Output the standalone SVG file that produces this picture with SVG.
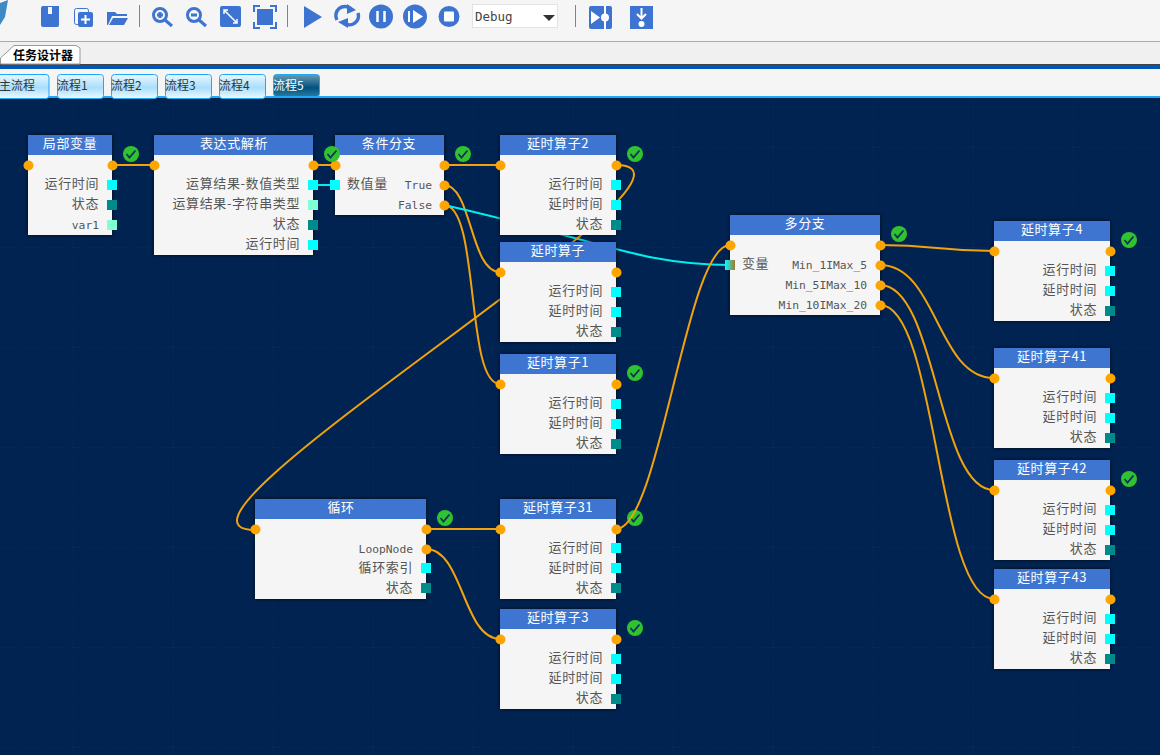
<svg xmlns="http://www.w3.org/2000/svg" width="1160" height="755" viewBox="0 0 1160 755">
<style>
.ti{font-family:"Noto Sans CJK SC",sans-serif;font-size:13px;fill:#fff;text-anchor:middle;letter-spacing:.6px}
.l{font-family:"Noto Sans CJK SC",sans-serif;font-size:13px;fill:#555;text-anchor:end;letter-spacing:.6px}
.ls{font-family:"Noto Sans CJK SC",sans-serif;font-size:13px;fill:#555;letter-spacing:.6px}
.m{font-family:"DejaVu Sans Mono",monospace;font-size:11.3px;fill:#555;text-anchor:end}
.tab{font-family:"Noto Sans CJK SC",sans-serif;font-size:12px;fill:#333}
.b{fill:#f5f5f5}.h{fill:#3d74d1}
.o{fill:#ffa500;transform:translate(.5px,.5px)}.c{fill:#0ff}.d{fill:#008b8b}.a{fill:#7fffd4}
.w{fill:none;stroke:#f2a20c;stroke-width:2}
.cy{fill:none;stroke:#0ee;stroke-width:2}
.i{fill:#3d74d1}.ln{fill:none;stroke:#3d74d1}.wl{fill:none;stroke:#fff}
.sep{stroke:#5b86d0;stroke-width:1}
.tb{stroke:#1fa9f5;stroke-width:1;fill:url(#tg)}
</style>
<defs>
<filter id="s" x="-10%" y="-10%" width="120%" height="120%"><feDropShadow dx="0" dy="0" stdDeviation="2" flood-color="#000" flood-opacity=".75"/></filter>
<linearGradient id="tg" x1="0" y1="0" x2="0" y2="1"><stop offset="0" stop-color="#eaf7ff"/><stop offset=".55" stop-color="#a8defc"/><stop offset="1" stop-color="#eef9ff"/></linearGradient>
<linearGradient id="ta" x1="0" y1="0" x2="0" y2="1"><stop offset="0" stop-color="#6c9bb2"/><stop offset=".6" stop-color="#00527f"/><stop offset="1" stop-color="#2a7ba0"/></linearGradient>
<linearGradient id="vg"><stop offset="0" stop-color="#0ff"/><stop offset="1" stop-color="#a9772c"/></linearGradient>
<pattern id="g" x="73" y="147" width="100" height="100" patternUnits="userSpaceOnUse"><path d="M0 0H100M0 0V100" stroke="#0f3364" stroke-width="1" stroke-dasharray="1 2" fill="none"/></pattern>
<g id="ok"><circle r="8" fill="#2fc42f"/><path d="M-4.5 0L-1.5 3.5L4.5-3.5" fill="none" stroke="#12305a" stroke-width="1.8"/></g>
</defs>

<rect width="1160" height="755" fill="#012352"/>
<rect y="98" width="1160" height="657" fill="url(#g)"/>

<g id="toolbar">
<rect width="1160" height="41" fill="#f5f5f5"/>
<rect y="41" width="1160" height="1" fill="#aaa"/>
<rect y="42" width="1160" height="22" fill="#f0f0f0"/>
<rect y="64" width="1160" height="1" fill="#444"/>
<rect y="65" width="1160" height="4" fill="#0057b8"/>
<rect y="69" width="1160" height="27" fill="#f5f5f5"/>
<rect y="96" width="1160" height="2" fill="#1fa9f5"/>
<path d="M0 3L8 0L5 17L0 25Z" fill="#3d8ac5"/>
<path class="i" d="M43 6H59V25Q59 27 57 27H43Q41 27 41 25V8Q41 6 43 6Z"/><rect x="48" y="7" width="4" height="7" fill="#f5f5f5"/>
<rect class="ln" x="74.500" y="8.500" width="14" height="16" rx="2"/><rect class="i" x="78" y="12" width="15" height="15" rx="2"/><path class="wl" stroke-width="2" d="M85.500 15V24M81 19.500H90"/>
<path class="i" d="M107 12H115L117 14H127V16H112L108 25H107ZM113 18H128L124 25H109Z"/>
<line class="sep" x1="139.500" y1="5" x2="139.500" y2="27"/>
<circle class="ln" stroke-width="3" cx="160" cy="15" r="6.500"/><path class="ln" stroke-width="3" d="M165 20L172 26M157 15H163M160 12V18"/>
<circle class="ln" stroke-width="3" cx="194" cy="15" r="6.500"/><path class="ln" stroke-width="3" d="M199 20L206 26M191 15H197"/>
<rect class="i" x="220" y="6" width="21" height="21" rx="2"/><path class="wl" stroke-width="1.500" d="M224 10L237 23M224 14V10H228M237 19V23H233"/>
<path class="ln" stroke-width="2" d="M254 12V6H260M270 6H276V12M276 22V28H270M260 28H254V22"/><rect class="i" x="257" y="9" width="16" height="16"/>
<line class="sep" x1="287.500" y1="5" x2="287.500" y2="27"/>
<path class="i" d="M304 6L322 17L304 28Z"/>
<path class="ln" stroke-width="3.500" d="M337 20A9 9 0 0 1 351 9M358 13A9 9 0 0 1 344 23"/><path class="i" d="M347 4L356 10L347 14ZM348 28L338 22L348 18Z"/>
<circle class="i" cx="381" cy="16.500" r="12"/><path class="wl" stroke-width="2.500" d="M377.500 11V22M384.500 11V22"/>
<circle class="i" cx="415" cy="16.500" r="12"/><path class="wl" stroke-width="2" d="M409 11V22"/><path d="M413 10L423 16.500L413 23Z" fill="#fff"/>
<circle class="i" cx="449" cy="16.500" r="10.500"/><rect x="444" y="11.500" width="10" height="10" rx="1" fill="#fff"/>
<rect x="472.500" y="4.500" width="85" height="23" fill="#fff" stroke="#e3e3e3"/>
<text x="475" y="21" font-family="DejaVu Sans Mono,monospace" font-size="12.500" fill="#444">Debug</text>
<path d="M543 15H555L549 21Z" fill="#333"/>
<line class="sep" x1="575.500" y1="5" x2="575.500" y2="27"/>
<rect class="i" x="589" y="6" width="23" height="23" rx="2"/><path d="M591 11L600 17.500L591 24Z" fill="#fff"/><path class="wl" stroke-width="2" d="M605 6V29"/><circle cx="605" cy="17.500" r="4" fill="#fff"/>
<rect class="i" x="630" y="6" width="23" height="23"/><path class="wl" stroke-width="2" d="M641.500 8V18M637 14L641.500 18.500L646 14"/><circle cx="641.500" cy="24" r="3" fill="#fff"/>
<path d="M0.500 62V58L14 45.500H76L80 48V64H0.500Z" fill="#fff" stroke="#999"/>
<text x="13" y="60" font-family="Noto Sans CJK SC,sans-serif" font-size="12" font-weight="700" fill="#000">任务设计器</text>
<g id="tabs">
<rect class="tb" x="-8" y="74.500" width="57" height="24" rx="3"/><text class="tab" x="-1" y="90">主流程</text>
<rect class="tb" x="57.500" y="74.500" width="46" height="24" rx="3"/><text class="tab" x="57" y="90">流程1</text>
<rect class="tb" x="111.500" y="74.500" width="46" height="24" rx="3"/><text class="tab" x="111" y="90">流程2</text>
<rect class="tb" x="165.500" y="74.500" width="46" height="24" rx="3"/><text class="tab" x="165" y="90">流程3</text>
<rect class="tb" x="219.500" y="74.500" width="46" height="24" rx="3"/><text class="tab" x="219" y="90">流程4</text>
<rect x="273.500" y="74.500" width="46" height="22" rx="3" fill="url(#ta)" stroke="#1fa9f5"/><text class="tab" x="273" y="90" style="fill:#fff">流程5</text>
</g>
</g>

<g id="n-delay31"><g filter="url(#s)"><rect class="b" x="500" y="499" width="116" height="100"/><rect class="h" x="500" y="499" width="116" height="20"/></g>
<text class="ti" x="558" y="512">延时算子31</text><circle class="o" cx="500" cy="529" r="5"/><circle class="o" cx="616" cy="529" r="5"/>
<text class="l" x="603" y="552">运行时间</text><rect class="c" x="611" y="543" width="10" height="10"/><text class="l" x="603" y="572">延时时间</text><rect class="c" x="611" y="563" width="10" height="10"/><text class="l" x="603" y="592">状态</text><rect class="d" x="611" y="583" width="10" height="10"/>
<use href="#ok" x="635" y="518"/></g>

<g id="connectors">
<path class="w" d="M112 165H154"/>
<path class="w" d="M313 165H335"/>
<path class="cy" d="M313 185H335"/>
<path class="w" d="M444 165H500"/>
<path class="w" d="M444 185C472 185 470 272 500 272"/>
<path class="w" d="M444 205C480 205 465 384 500 384"/>
<path class="cy" d="M444 205C600 240 640 265 730 265"/>
<path class="w" d="M616 165C746 165 125 530 255 530"/>
<path class="w" d="M616 529C660 529 686 245 730 245"/>
<path class="w" d="M880 245C937 245 937 251 994 251"/>
<path class="w" d="M880 265C937 265 937 378 994 378"/>
<path class="w" d="M880 285C937 285 937 490 994 490"/>
<path class="w" d="M880 305C937 305 937 599 994 599"/>
<path class="w" d="M426 529H500"/>
<path class="w" d="M426 549C463 549 463 639 500 639"/>
</g>

<g id="n-local"><g filter="url(#s)"><rect class="b" x="28" y="135" width="84" height="100"/><rect class="h" x="28" y="135" width="84" height="20"/></g>
<text class="ti" x="70" y="148">局部变量</text><circle class="o" cx="28" cy="165" r="5"/><circle class="o" cx="112" cy="165" r="5"/>
<text class="l" x="99" y="188">运行时间</text><rect class="c" x="107" y="180" width="10" height="10"/><text class="l" x="99" y="208">状态</text><rect class="d" x="107" y="200" width="10" height="10"/><text class="m" x="99" y="229">var1</text><rect class="a" x="107" y="220" width="10" height="10"/>
<use href="#ok" x="131" y="154"/></g>

<g id="n-cond"><g filter="url(#s)"><rect class="b" x="335" y="135" width="109" height="80"/><rect class="h" x="335" y="135" width="109" height="20"/></g>
<text class="ti" x="389" y="148">条件分支</text><circle class="o" cx="335" cy="165" r="5"/><circle class="o" cx="444" cy="165" r="5"/>
<rect class="c" x="330" y="180" width="10" height="10"/><text class="ls" x="347" y="188">数值量</text>
<text class="m" x="432" y="189">True</text><circle class="o" cx="444" cy="185" r="5"/><text class="m" x="432" y="209">False</text><circle class="o" cx="444" cy="205" r="5"/>
<use href="#ok" x="463" y="154"/></g>

<g id="n-expr"><g filter="url(#s)"><rect class="b" x="154" y="135" width="159" height="120"/><rect class="h" x="154" y="135" width="159" height="20"/></g>
<text class="ti" x="234" y="148">表达式解析</text><circle class="o" cx="154" cy="165" r="5"/><circle class="o" cx="313" cy="165" r="5"/>
<text class="l" x="300" y="188">运算结果-数值类型</text><rect class="c" x="308" y="180" width="10" height="10"/><text class="l" x="300" y="208">运算结果-字符串类型</text><rect class="a" x="308" y="200" width="10" height="10"/><text class="l" x="300" y="228">状态</text><rect class="d" x="308" y="220" width="10" height="10"/><text class="l" x="300" y="248">运行时间</text><rect class="c" x="308" y="240" width="10" height="10"/>
<use href="#ok" x="332" y="154"/></g>

<g id="n-delay2"><g filter="url(#s)"><rect class="b" x="500" y="135" width="116" height="100"/><rect class="h" x="500" y="135" width="116" height="20"/></g>
<text class="ti" x="558" y="148">延时算子2</text><circle class="o" cx="500" cy="165" r="5"/><circle class="o" cx="616" cy="165" r="5"/>
<text class="l" x="603" y="188">运行时间</text><rect class="c" x="611" y="180" width="10" height="10"/><text class="l" x="603" y="208">延时时间</text><rect class="c" x="611" y="200" width="10" height="10"/><text class="l" x="603" y="228">状态</text><rect class="d" x="611" y="220" width="10" height="10"/>
<use href="#ok" x="635" y="154"/></g>

<g id="n-delay"><g filter="url(#s)"><rect class="b" x="500" y="242" width="116" height="100"/><rect class="h" x="500" y="242" width="116" height="20"/></g>
<text class="ti" x="558" y="255">延时算子</text><circle class="o" cx="500" cy="272" r="5"/><circle class="o" cx="616" cy="272" r="5"/>
<text class="l" x="603" y="295">运行时间</text><rect class="c" x="611" y="287" width="10" height="10"/><text class="l" x="603" y="315">延时时间</text><rect class="c" x="611" y="307" width="10" height="10"/><text class="l" x="603" y="335">状态</text><rect class="d" x="611" y="327" width="10" height="10"/></g>

<g id="n-delay1"><g filter="url(#s)"><rect class="b" x="500" y="354" width="116" height="100"/><rect class="h" x="500" y="354" width="116" height="20"/></g>
<text class="ti" x="558" y="367">延时算子1</text><circle class="o" cx="500" cy="384" r="5"/><circle class="o" cx="616" cy="384" r="5"/>
<text class="l" x="603" y="407">运行时间</text><rect class="c" x="611" y="399" width="10" height="10"/><text class="l" x="603" y="427">延时时间</text><rect class="c" x="611" y="419" width="10" height="10"/><text class="l" x="603" y="447">状态</text><rect class="d" x="611" y="439" width="10" height="10"/>
<use href="#ok" x="635" y="373"/></g>

<g id="n-multi"><g filter="url(#s)"><rect class="b" x="730" y="215" width="150" height="100"/><rect class="h" x="730" y="215" width="150" height="20"/></g>
<text class="ti" x="805" y="228">多分支</text><circle class="o" cx="730" cy="245" r="5"/><circle class="o" cx="880" cy="245" r="5"/>
<rect x="725" y="260" width="10" height="10" fill="url(#vg)"/><text class="ls" x="742" y="268">变量</text>
<text class="m" x="867" y="269">Min_1IMax_5</text><circle class="o" cx="880" cy="265" r="5"/><text class="m" x="867" y="289">Min_5IMax_10</text><circle class="o" cx="880" cy="285" r="5"/><text class="m" x="867" y="309">Min_10IMax_20</text><circle class="o" cx="880" cy="305" r="5"/>
<use href="#ok" x="899" y="234"/></g>

<g id="n-delay4"><g filter="url(#s)"><rect class="b" x="994" y="221" width="116" height="100"/><rect class="h" x="994" y="221" width="116" height="20"/></g>
<text class="ti" x="1052" y="234">延时算子4</text><circle class="o" cx="994" cy="251" r="5"/><circle class="o" cx="1110" cy="251" r="5"/>
<text class="l" x="1097" y="274">运行时间</text><rect class="c" x="1105" y="266" width="10" height="10"/><text class="l" x="1097" y="294">延时时间</text><rect class="c" x="1105" y="286" width="10" height="10"/><text class="l" x="1097" y="314">状态</text><rect class="d" x="1105" y="306" width="10" height="10"/>
<use href="#ok" x="1129" y="240"/></g>

<g id="n-delay41"><g filter="url(#s)"><rect class="b" x="994" y="348" width="116" height="100"/><rect class="h" x="994" y="348" width="116" height="20"/></g>
<text class="ti" x="1052" y="361">延时算子41</text><circle class="o" cx="994" cy="378" r="5"/><circle class="o" cx="1110" cy="378" r="5"/>
<text class="l" x="1097" y="401">运行时间</text><rect class="c" x="1105" y="393" width="10" height="10"/><text class="l" x="1097" y="421">延时时间</text><rect class="c" x="1105" y="413" width="10" height="10"/><text class="l" x="1097" y="441">状态</text><rect class="d" x="1105" y="433" width="10" height="10"/></g>

<g id="n-delay42"><g filter="url(#s)"><rect class="b" x="994" y="460" width="116" height="100"/><rect class="h" x="994" y="460" width="116" height="20"/></g>
<text class="ti" x="1052" y="473">延时算子42</text><circle class="o" cx="994" cy="490" r="5"/><circle class="o" cx="1110" cy="490" r="5"/>
<text class="l" x="1097" y="513">运行时间</text><rect class="c" x="1105" y="505" width="10" height="10"/><text class="l" x="1097" y="533">延时时间</text><rect class="c" x="1105" y="525" width="10" height="10"/><text class="l" x="1097" y="553">状态</text><rect class="d" x="1105" y="545" width="10" height="10"/>
<use href="#ok" x="1129" y="479"/></g>

<g id="n-delay43"><g filter="url(#s)"><rect class="b" x="994" y="569" width="116" height="100"/><rect class="h" x="994" y="569" width="116" height="20"/></g>
<text class="ti" x="1052" y="582">延时算子43</text><circle class="o" cx="994" cy="599" r="5"/><circle class="o" cx="1110" cy="599" r="5"/>
<text class="l" x="1097" y="622">运行时间</text><rect class="c" x="1105" y="614" width="10" height="10"/><text class="l" x="1097" y="642">延时时间</text><rect class="c" x="1105" y="634" width="10" height="10"/><text class="l" x="1097" y="662">状态</text><rect class="d" x="1105" y="654" width="10" height="10"/></g>

<g id="n-loop"><g filter="url(#s)"><rect class="b" x="255" y="499" width="171" height="100"/><rect class="h" x="255" y="499" width="171" height="20"/></g>
<text class="ti" x="341" y="512">循环</text><circle class="o" cx="255" cy="529" r="5"/><circle class="o" cx="426" cy="529" r="5"/>
<text class="m" x="413" y="553">LoopNode</text><circle class="o" cx="426" cy="549" r="5"/><text class="l" x="413" y="572">循环索引</text><rect class="c" x="421" y="563" width="10" height="10"/><text class="l" x="413" y="592">状态</text><rect class="d" x="421" y="583" width="10" height="10"/>
<use href="#ok" x="445" y="518"/></g>

<g id="n-delay3"><g filter="url(#s)"><rect class="b" x="500" y="609" width="116" height="100"/><rect class="h" x="500" y="609" width="116" height="20"/></g>
<text class="ti" x="558" y="622">延时算子3</text><circle class="o" cx="500" cy="639" r="5"/><circle class="o" cx="616" cy="639" r="5"/>
<text class="l" x="603" y="662">运行时间</text><rect class="c" x="611" y="654" width="10" height="10"/><text class="l" x="603" y="682">延时时间</text><rect class="c" x="611" y="674" width="10" height="10"/><text class="l" x="603" y="702">状态</text><rect class="d" x="611" y="694" width="10" height="10"/>
<use href="#ok" x="635" y="628"/></g>
</svg>
